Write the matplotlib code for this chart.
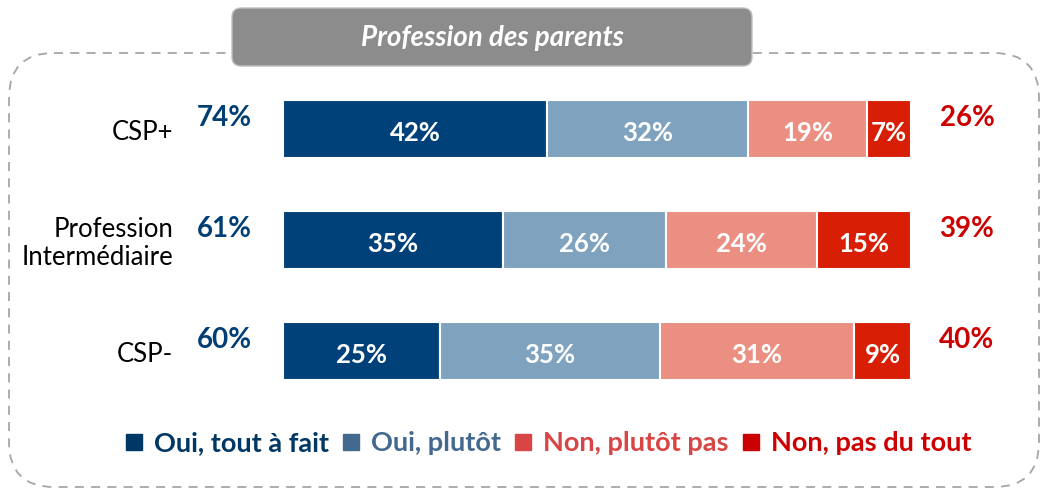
import matplotlib
matplotlib.use("Agg")
import matplotlib.pyplot as plt
from matplotlib.patches import FancyBboxPatch
import numpy as np

plt.rcParams['font.family'] = ['Lato', 'DejaVu Sans']

categories = ["CSP+", "Profession\nIntermédiaire", "CSP-"]
series_names = ["Oui, tout à fait", "Oui, plutôt", "Non, plutôt pas", "Non, pas du tout"]
tout_a_fait = [42, 35, 25]
plutot = [32, 26, 35]
plutot_pas = [19, 24, 31]
pas_du_tout = [7, 15, 9]
total_oui = [74, 61, 60]
total_non = [26, 39, 40]
title = "Profession des parents"

bar_colors = ["#004179", "#7fa3bf", "#eb8f82", "#d81e05"]
legend_text_colors = ["#003865", "#44698f", "#d94545", "#cc0000"]
legend_marker_colors = ["#003865", "#44698f", "#d94545", "#cc0000"]

W, H = 1048, 491
fig = plt.figure(figsize=(W / 100, H / 100), dpi=100)

# decoration overlay in pixel coordinates
deco = fig.add_axes([0, 0, 1, 1])
deco.set_xlim(0, W)
deco.set_ylim(H, 0)
deco.axis("off")
border = FancyBboxPatch((9, 53), 1030, 434, boxstyle="round,pad=0,rounding_size=45",
                        fill=False, edgecolor="#a6a6a6", linestyle=(0, (5, 4)), linewidth=1.3)
deco.add_patch(border)
tbox = FancyBboxPatch((232, 8), 520, 58, boxstyle="round,pad=0,rounding_size=9",
                      facecolor="#8c8c8c", edgecolor="#bfbfbf", linewidth=1.0, zorder=3)
deco.add_patch(tbox)
deco.text(492, 38, title, color="white", fontsize=20, fontweight="bold",
          fontstyle="italic", ha="center", va="center", zorder=4)

# main bar axes
left_px, right_px = 283, 911
top_px, bot_px = 73.5, 406.5
ax = fig.add_axes([left_px / W, 1 - bot_px / H, (right_px - left_px) / W, (bot_px - top_px) / H])
ax.set_xlim(0, 100)
ax.set_ylim(2.5, -0.5)
ax.axis("off")

y = np.arange(len(categories))
series = [tout_a_fait, plutot, plutot_pas, pas_du_tout]
left = np.zeros(len(categories))
for vals, col, name in zip(series, bar_colors, series_names):
    vals = np.array(vals, dtype=float)
    ax.barh(y, vals, left=left, height=0.525, color=col, edgecolor="white",
            linewidth=1.5, label=name)
    for yi, l, v in zip(y, left, vals):
        ax.text(l + v / 2, yi + 0.04, f"{int(v)}%", color="white", fontsize=18.5,
                fontweight="bold", ha="center", va="center")
    left += vals

px = 100 / (right_px - left_px)
for yi, cat, to, tn in zip(y, categories, total_oui, total_non):
    ax.text((173 - left_px) * px, yi + 0.03, cat, fontsize=18.5, color="black",
            ha="right", va="center", linespacing=1.15, clip_on=False)
    ax.text((224 - left_px) * px, yi - 0.1, f"{to}%", fontsize=20, color="#003f75",
            fontweight="bold", ha="center", va="center", clip_on=False)
    ax.text((967 - left_px) * px, yi - 0.1, f"{tn}%", fontsize=20, color="#cc0000",
            fontweight="bold", ha="center", va="center", clip_on=False)

# legend
handles = [plt.Line2D([], [], marker="s", linestyle="none", markersize=12,
                      markerfacecolor=c, markeredgecolor=c) for c in legend_marker_colors]
leg = fig.legend(handles, series_names, loc="center", bbox_to_anchor=(548 / W, 1 - 443 / H),
                 ncol=4, frameon=False, fontsize=19.5, handlelength=0.7, handletextpad=0.4,
                 columnspacing=0.45, borderaxespad=0)
for t, c in zip(leg.get_texts(), legend_text_colors):
    t.set_color(c)
    t.set_fontweight("bold")

fig.savefig("out.png", dpi=100)
